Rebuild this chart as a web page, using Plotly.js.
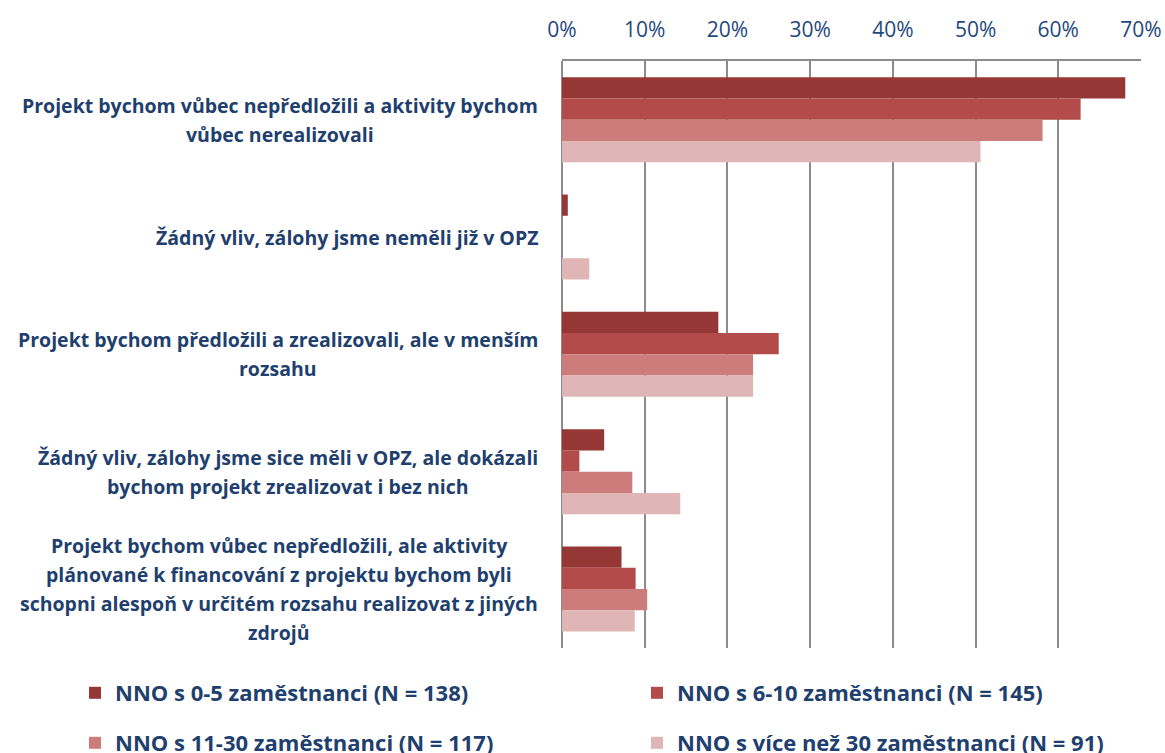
<!DOCTYPE html>
<html><head><meta charset="utf-8">
<script src="https://cdn.plot.ly/plotly-3.0.1.min.js"></script>
<style>html,body{margin:0;padding:0;background:#fff}#chart{width:1165px;height:753px}</style>
</head><body><div id="chart"></div>
<script>
// ---- data ----
const categories = [
  "Projekt bychom vůbec nepředložili a aktivity bychom<br>vůbec nerealizovali",
  "Žádný vliv, zálohy jsme neměli již v OPZ",
  "Projekt bychom předložili a zrealizovali, ale v menším<br>rozsahu",
  "Žádný vliv, zálohy jsme sice měli v OPZ, ale dokázali<br>bychom projekt zrealizovat i bez nich",
  "Projekt bychom vůbec nepředložili, ale aktivity<br>plánované k financování z projektu bychom byli<br>schopni alespoň v určitém rozsahu realizovat z jiných<br>zdrojů"
];
const seriesNames = [
  "NNO s 0-5 zaměstnanci (N = 138)",
  "NNO s 6-10 zaměstnanci (N = 145)",
  "NNO s 11-30 zaměstnanci (N = 117)",
  "NNO s více než 30 zaměstnanci (N = 91)"
];
const nno0_5   = [0.681, 0.007, 0.189, 0.051, 0.072];
const nno6_10  = [0.627, 0.000, 0.262, 0.021, 0.089];
const nno11_30 = [0.581, 0.000, 0.231, 0.085, 0.103];
const nno30p   = [0.506, 0.033, 0.231, 0.143, 0.088];
const xTickVals = [0, 0.1, 0.2, 0.3, 0.4, 0.5, 0.6, 0.7];

// ---- style ----
const colors = ["#953735", "#B34B4A", "#CB7C7B", "#DFB5B5"];
const navy = "#1F3F6E";
const tickNavy = "#1F497D";
const labelFont = "Open Sans";
const labelSize = 19.5;
const lineH = 29;
const W = 1165, H = 753;
const margin = {l: 562, r: 24, t: 61, b: 105, autoexpand: false};
// legend slot positions (px): left edge of item, vertical centre
const legendSlots = [[75, 693], [637, 693], [75, 743], [637, 743]];
const legendIds = ["legend", "legend2", "legend3", "legend4"];

const seriesVals = [nno0_5, nno6_10, nno11_30, nno30p];
const traces = seriesVals.map((vals, i) => ({
  type: "bar",
  orientation: "h",
  name: seriesNames[i],
  x: vals,
  y: categories,
  marker: {color: colors[i], line: {width: 0}},
  legend: legendIds[i],
  hoverinfo: "x+name"
}));

// centred multi-line category labels (right edge of widest line fixed)
const cv = document.createElement("canvas").getContext("2d");
cv.font = "bold " + labelSize + "px '" + labelFont + "'";
const annotations = [];
categories.forEach((cat, i) => {
  const lines = cat.split("<br>");
  const maxW = Math.max(...lines.map(l => cv.measureText(l).width));
  const n = lines.length;
  lines.forEach((ln, k) => {
    annotations.push({
      xref: "paper", yref: "y", x: 0, y: i,
      xanchor: "center", yanchor: "middle",
      xshift: -24 - maxW / 2,
      yshift: -(k - (n - 1) / 2) * lineH,
      text: ln, showarrow: false,
      font: {family: labelFont, size: labelSize, color: navy, weight: "bold"}
    });
  });
});

const layout = {
  width: W, height: H,
  margin: margin,
  paper_bgcolor: "#fff", plot_bgcolor: "#fff",
  barmode: "group", bargap: 0.276, bargroupgap: 0,
  showlegend: true,
  xaxis: {
    side: "top", range: [0, 0.7], tickvals: xTickVals, tickformat: ".0%",
    showgrid: true, gridcolor: "#8C8C8C", gridwidth: 1.5,
    showline: true, linecolor: "#8C8C8C", linewidth: 1.5,
    zeroline: true, zerolinecolor: "#8C8C8C", zerolinewidth: 1.5,
    ticks: "", ticklabelstandoff: 14,
    tickfont: {family: labelFont, size: 21, color: tickNavy},
    fixedrange: true
  },
  yaxis: {
    type: "category", autorange: "reversed",
    showticklabels: false, showgrid: false, zeroline: false, showline: false,
    ticks: "", fixedrange: true
  },
  annotations: annotations
};
legendIds.forEach((id, i) => {
  layout[id] = {
    orientation: "v",
    xref: "container", yref: "container",
    x: legendSlots[i][0] / W, y: 1 - legendSlots[i][1] / H,
    xanchor: "left", yanchor: "middle",
    font: {family: labelFont, size: 22, color: navy, weight: "bold"},
    bgcolor: "rgba(0,0,0,0)", borderwidth: 0
  };
});

Plotly.newPlot("chart", traces, layout, {displayModeBar: false, responsive: false});
</script>
</body></html>
